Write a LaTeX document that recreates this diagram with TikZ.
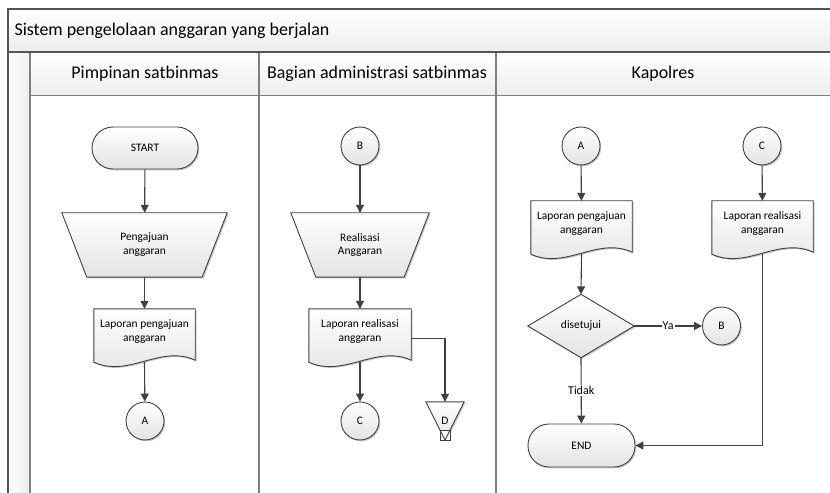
\documentclass[tikz,border=0pt]{standalone}
\usepackage{fontspec}
\setmainfont{Carlito}
\usetikzlibrary{arrows.meta,shadows,calc,backgrounds}
\definecolor{linec}{HTML}{404040}
\definecolor{framec}{HTML}{555555}
\definecolor{lanec}{HTML}{808080}
\definecolor{barc}{HTML}{EDEDED}
\pgfdeclarelayer{bottom}
\pgfsetlayers{bottom,background,main}
\tikzset{
  ln/.style={draw=linec, line width=1.1bp},
  arr/.style={ln, -{Triangle[length=8bp,width=8bp]}},
  shapefill/.style={top color=white, bottom color=gray!22, draw=linec, line width=0.9bp,
    drop shadow={shadow xshift=1.3bp, shadow yshift=-1.3bp, opacity=0.22, fill=black}},
  sfont/.style={font=\fontsize{11.5}{14}\selectfont},
  term/.style={rectangle, rounded corners=21bp, minimum width=106bp, minimum height=42bp, inner sep=0, shapefill, sfont},
  conn/.style={circle, minimum size=38bp, inner sep=0, shapefill, sfont},
  box/.style={rectangle, inner sep=0, draw=none, sfont, align=center},
  lbl/.style={fill=white, inner sep=1bp, font=\fontsize{12}{14}\selectfont},
  hdr/.style={font=\fontsize{18}{20}\selectfont}
}
\newcommand\docpath[1]{%
  \path[shapefill] (#1.north west) -- (#1.north east) -- ($(#1.south east)+(0,6)$)
    .. controls ($(#1.south east)+(-35,-10)$) and ($(#1.south west)+(35,24)$) .. ($(#1.south west)+(0,8)$) -- cycle;
  \coordinate (#1-b) at ($(#1.south)+(0,8)$);}
\newcommand\trappath[1]{%
  \path[shapefill] (#1.north west) -- (#1.north east) -- ($(#1.south east)+(-25,0)$) -- ($(#1.south west)+(25,0)$) -- cycle;}
\newcommand\diapath[1]{%
  \path[shapefill] (#1.north) -- (#1.east) -- (#1.south) -- (#1.west) -- cycle;}
\begin{document}
\begin{tikzpicture}[x=1bp,y=-1bp]
\useasboundingbox (0,0) rectangle (830,493);
\begin{pgfonlayer}{bottom}
  \fill[white] (0,0) rectangle (830,493);
  \begin{scope}
    \clip (0,0) rectangle (830,493);
    \path[top color=white, bottom color=barc] (8,9) rectangle (840,52);
    \path[left color=white, right color=barc] (8,52) rectangle (30,500);
    \path[top color=white, bottom color=barc] (30,52) rectangle (840,96);
    \draw[lanec, line width=1.4bp] (30,52) -- (30,500) (259,52) -- (259,500) (496,52) -- (496,500);
    \draw[lanec, line width=1bp] (30,96) -- (840,96);
    \draw[framec, line width=1.2bp] (8,500) -- (8,9) -- (840,9) (8,52) -- (840,52);
  \end{scope}
\end{pgfonlayer}
% titles
\node[hdr, anchor=west] (title) at (11,31) {Sistem pengelolaan anggaran yang berjalan};
\node[hdr] (h1) at (145,74) {Pimpinan satbinmas};
\node[hdr] (h2) at (377,74) {Bagian administrasi satbinmas};
\node[hdr] (h3) at (663,74) {Kapolres};

% lane 1
\node[term] (start) at (145,148) {START};
\node[box, minimum width=165bp, minimum height=64bp] (m1) at (144.5,245) {Pengajuan\\anggaran};
\node[box, minimum width=101bp, minimum height=45bp] (d1) at (144.5,331.5) {Laporan pengajuan\\anggaran};
\node[conn] (a1) at (145,421) {A};

% lane 2
\node[conn] (b1) at (360,146) {B};
\node[box, minimum width=138bp, minimum height=64bp] (m2) at (360,245) {Realisasi\\Anggaran};
\node[box, minimum width=102bp, minimum height=45bp] (d2) at (360,331.5) {Laporan realisasi\\anggaran};
\node[conn] (c1) at (360,421) {C};
\node[box, minimum width=38bp, minimum height=38bp] (dd) at (445,421) {D};

% lane 3
\node[conn] (a2) at (581,146) {A};
\node[conn] (c2) at (762,146) {C};
\node[box, minimum width=101bp, minimum height=45bp] (d3) at (581.5,223.5) {Laporan pengajuan\\anggaran};
\node[box, minimum width=101bp, minimum height=45bp] (d4) at (762.5,223.5) {Laporan realisasi\\anggaran};
\node[box, minimum width=106bp, minimum height=63bp] (dia) at (581,326) {disetujui};
\node[conn] (b2) at (721.5,326) {B};
\node[term, minimum width=107bp, minimum height=43bp] (endn) at (581.5,445.5) {END};

\begin{pgfonlayer}{background}
  \trappath{m1}
  \trappath{m2}
  \docpath{d1}
  \docpath{d2}
  \docpath{d3}
  \docpath{d4}
  \diapath{dia}
  \path[shapefill] (dd.north west) -- (dd.north east) -- (dd.south) -- cycle;
  \draw[linec, line width=0.9bp, fill=white] ($(dd.south)+(-5,-10)$) rectangle ($(dd.south)+(5,0)$);
  \draw[linec, line width=0.9bp] ($(dd.south)+(-5,-10)$) -- (dd.south) -- ($(dd.south)+(5,-10)$);
\end{pgfonlayer}

% connectors
\draw[arr] (start) -- (m1);
\draw[arr] (m1) -- (d1);
\draw[arr] (d1-b) -- (a1);
\draw[arr] (b1) -- (m2);
\draw[arr] (m2) -- (d2);
\draw[arr] (d2-b) -- (c1);
\coordinate (d2r) at ($(d2.east)+(0,7)$);
\draw[arr] (d2r) -| (dd.north);
\draw[arr] (a2) -- (d3);
\draw[arr] (c2) -- (d4);
\draw[arr] (d3-b) -- (dia.north);
\draw[arr] (dia.east) -- node[lbl] {Ya} (b2);
\draw[arr] (dia.south) -- node[lbl, pos=0.5] {Tidak} (endn);
\draw[arr] (d4-b) |- (endn.east);
\end{tikzpicture}
\end{document}
